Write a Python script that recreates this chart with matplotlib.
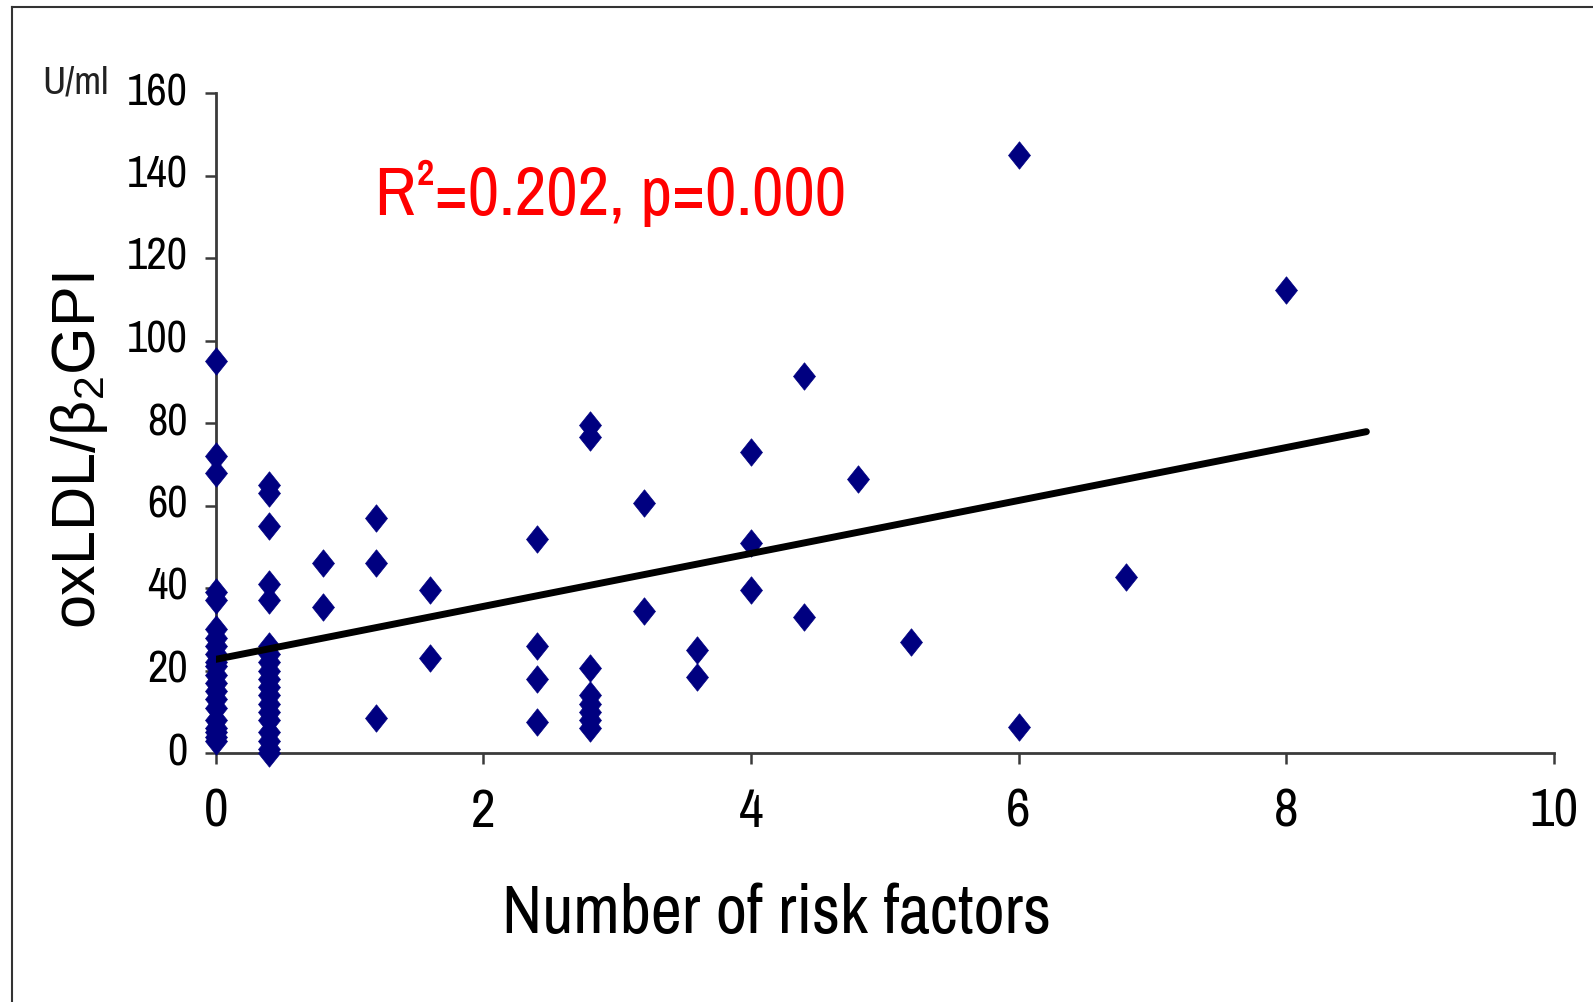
import numpy as np
import matplotlib
matplotlib.use("Agg")
import matplotlib.pyplot as plt
import matplotlib.transforms as mtransforms
from matplotlib.path import Path
from matplotlib.lines import Line2D

# Data
x_vals = (
    [0] * 21
    + [0.4] * 19
    + [0.8] * 2
    + [1.2] * 3
    + [1.6] * 2
    + [2.4] * 4
    + [2.8] * 8
    + [3.2] * 2
    + [3.6] * 2
    + [4.0] * 3
    + [4.4] * 2
    + [4.8, 5.2, 6, 6, 6.8, 8]
)
y_vals = (
    [95, 72, 68, 39, 37, 30, 28, 26, 24, 22, 21, 19, 17, 15, 13, 11, 8, 6, 5, 4, 3]
    + [65, 63, 55, 41, 37, 26, 24, 22, 20, 18, 16, 14, 12, 10, 8, 5, 3, 1, 0]
    + [46, 35.5]
    + [57, 46, 8.5]
    + [39.5, 23]
    + [52, 26, 18, 7.5]
    + [79.5, 76.5, 20.5, 14, 12, 10, 8, 6]
    + [60.5, 34.5]
    + [25, 18.5]
    + [73, 51, 39.5]
    + [91.5, 33]
    + [66.5, 27, 145, 6.3, 42.7, 112.3]
)

# regression line end points
trend_x = [0, 8.6]
trend_y = [22.7, 77.9]

x_ticks = [0, 2, 4, 6, 8, 10]
y_ticks = [0, 20, 40, 60, 80, 100, 120, 140, 160]

# the reference text is horizontally squeezed, so a narrow face fits it best
narrow = ["Archivo Narrow", "Liberation Sans", "DejaVu Sans"]
plt.rcParams["font.family"] = ["Liberation Sans", "DejaVu Sans"]
plt.rcParams["mathtext.fontset"] = "custom"
plt.rcParams["mathtext.rm"] = "Liberation Sans"
plt.rcParams["mathtext.it"] = "Liberation Sans"

W, H = 1593, 1002
fig = plt.figure(figsize=(W / 100, H / 100), dpi=100)
fig.patch.set_facecolor("white")
renderer = fig.canvas.get_renderer()


def size_for(s, family, width_px):
    # font size that makes the string about width_px wide
    t = fig.text(0, 0, s, fontsize=30, family=family)
    w = t.get_window_extent(renderer).width
    t.remove()
    return 30 * width_px / w


ax = fig.add_axes([215.7 / W, 1 - 753 / H, (1553.7 - 215.7) / W, (753 - 93) / H])

# tall diamond marker
diamond = Path([(0, 0.5), (0.4, 0), (0, -0.5), (-0.4, 0), (0, 0.5)],
               [Path.MOVETO, Path.LINETO, Path.LINETO, Path.LINETO, Path.CLOSEPOLY])

ax.scatter(x_vals, y_vals, marker=diamond, s=390, color="#000080",
           edgecolors="#000080", linewidths=0.5, clip_on=False, zorder=3)
ax.plot(trend_x, trend_y, color="black", lw=5, solid_capstyle="round", zorder=4)

ax.set_xlim(0, 10)
ax.set_ylim(0, 160)
ax.set_xticks(x_ticks)
ax.set_yticks(y_ticks)

for s in ["top", "right"]:
    ax.spines[s].set_visible(False)
for s in ["left", "bottom"]:
    ax.spines[s].set_color("#3a3a3a")
    ax.spines[s].set_linewidth(2)

ax.tick_params(axis="both", direction="out", length=8, width=1.8, color="#3a3a3a")
ax.tick_params(axis="x", pad=17, labelsize=size_for("10", narrow, 49))
ax.tick_params(axis="y", pad=12, labelsize=size_for("160", narrow, 61))
for lab in ax.get_xticklabels() + ax.get_yticklabels():
    lab.set_fontfamily(narrow)
# y labels sit a little above their ticks in the reference
lift = mtransforms.ScaledTranslation(0, 4 / 100, fig.dpi_scale_trans)
for lab in ax.get_yticklabels():
    lab.set_transform(lab.get_transform() + lift)

# stats text
ax.text(375, H - 215, "R²=0.202, p=0.000", transform=None, color="#ff0000",
        fontsize=size_for("R²=0.202, p=0.000", narrow, 470), fontfamily=narrow,
        ha="left", va="baseline")

# axis titles
fig.text(777 / W, 1 - 932.7 / H, "Number of risk factors",
         fontsize=size_for("Number of risk factors", narrow, 548),
         fontfamily=narrow, ha="center", va="baseline")
fig.text(110 / W, 1 - 451 / H, r"oxLDL/β$_2$GPI", fontsize=44, rotation=90,
         ha="right", va="center")
fig.text(42 / W, 1 - 93 / H, "U/ml", fontsize=size_for("U/ml", narrow, 66),
         fontfamily=narrow, color="#222222", ha="left", va="baseline")

# outer frame (top and left edges are visible)
fig.add_artist(Line2D([11.7 / W, 1], [1 - 7.3 / H, 1 - 7.3 / H], color="#333333", lw=1.5))
fig.add_artist(Line2D([11.7 / W, 11.7 / W], [0, 1 - 7.3 / H], color="#333333", lw=1.5))

fig.savefig("out.png", dpi=100)
